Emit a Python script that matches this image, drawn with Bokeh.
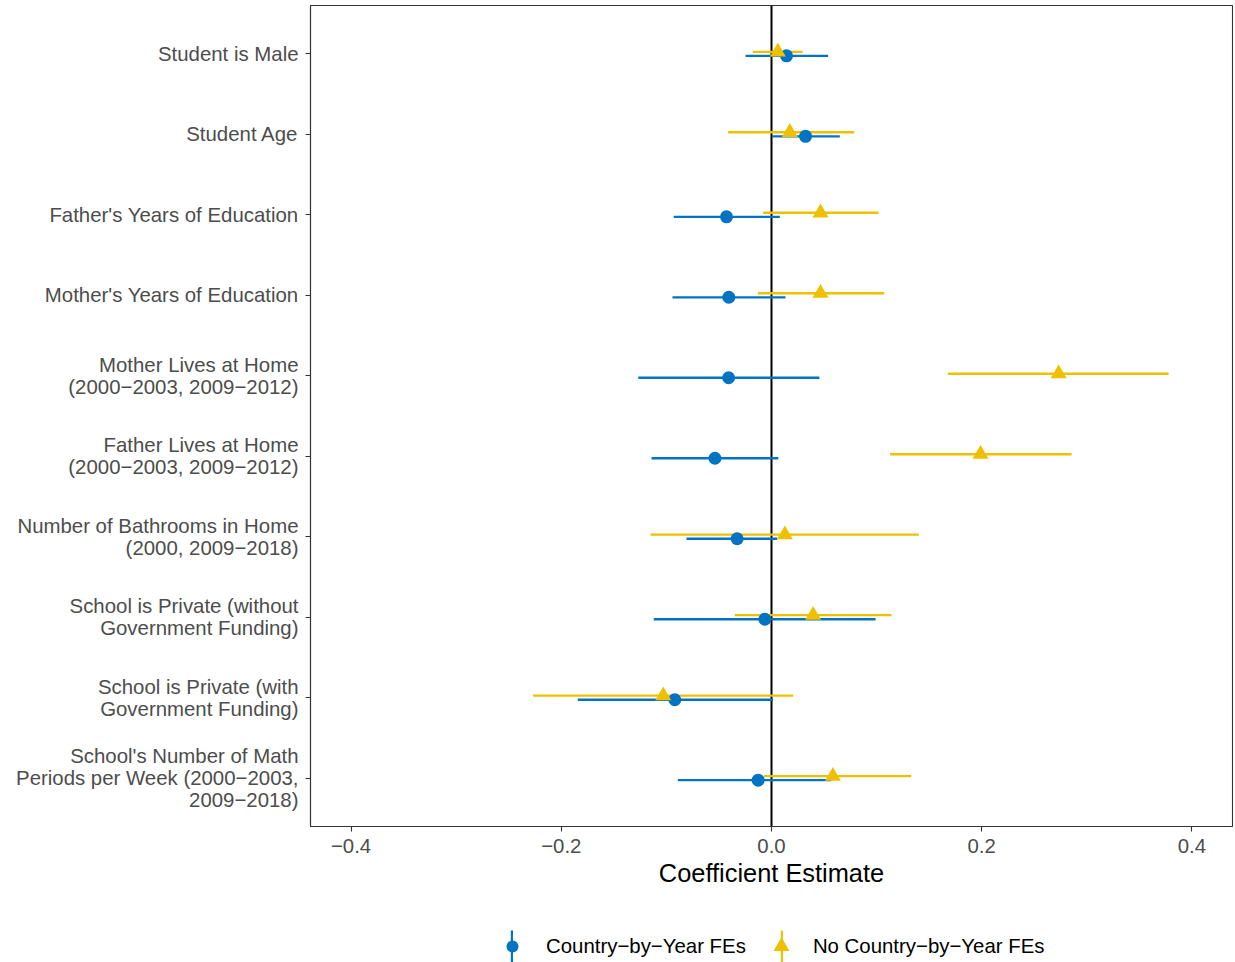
from bokeh.plotting import figure
from bokeh.layouts import column
from bokeh.models import (FactorRange, Range1d, Span, FixedTicker, Legend, LegendItem,
                          ColumnDataSource)
from bokeh.transform import dodge
from bokeh.embed import file_html
from bokeh.resources import INLINE

# ---------------- data ----------------
labels = [
    "Student is Male",
    "Student Age",
    "Father's Years of Education",
    "Mother's Years of Education",
    "Mother Lives at Home\n(2000\u22122003, 2009\u22122012)",
    "Father Lives at Home\n(2000\u22122003, 2009\u22122012)",
    "Number of Bathrooms in Home\n(2000, 2009\u22122018)",
    "School is Private (without\nGovernment Funding)",
    "School is Private (with\nGovernment Funding)",
    "School's Number of Math\nPeriods per Week (2000\u22122003,\n2009\u22122018)",
]

# Country-by-Year FEs (blue)
fe_est = [0.0143, 0.0324, -0.0428, -0.0406, -0.0408, -0.0538, -0.0327, -0.0063, -0.0920, -0.0127]
fe_lo = [-0.0247, 0.0005, -0.0930, -0.0942, -0.1267, -0.1141, -0.0809, -0.1120, -0.1843, -0.0891]
fe_hi = [0.0539, 0.0650, 0.0079, 0.0133, 0.0456, 0.0065, 0.0054, 0.0990, 0.0013, 0.0570]

# No Country-by-Year FEs (yellow)
nofe_est = [0.0060, 0.0174, 0.0466, 0.0466, 0.2732, 0.1989, 0.0127, 0.0396, -0.1030, 0.0584]
nofe_lo = [-0.0178, -0.0412, -0.0079, -0.0130, 0.1678, 0.1128, -0.1151, -0.0349, -0.2268, -0.0073]
nofe_hi = [0.0295, 0.0787, 0.1018, 0.1072, 0.3778, 0.2855, 0.1402, 0.1142, 0.0206, 0.1329]

series_names = ["Country\u2212by\u2212Year FEs", "No Country\u2212by\u2212Year FEs"]
x_ticks = [-0.4, -0.2, 0.0, 0.2, 0.4]
x_tick_labels = ["\u22120.4", "\u22120.2", "0.0", "0.2", "0.4"]
x_title = "Coefficient Estimate"

# ---------------- style ----------------
BLUE = "#0073C2"
YELLOW = "#EFC000"
FONT = "Liberation Sans"
TICK_COL = "#4D4D4D"
FRAME_COL = "#333333"

p = figure(
    width=1235, height=900,
    y_range=FactorRange(factors=list(reversed(labels)), range_padding=0.1,
                        range_padding_units="absolute"),
    x_range=Range1d(-0.4386, 0.4386),
    output_backend="svg", toolbar_location=None,
    min_border_left=310, min_border_right=3, min_border_top=5, min_border_bottom=74,
)
p.grid.visible = False
p.outline_line_color = FRAME_COL
p.outline_line_width = 1.1
p.background_fill_color = "white"
p.border_fill_color = "white"

src_fe = ColumnDataSource(dict(label=labels, est=fe_est, lo=fe_lo, hi=fe_hi))
src_no = ColumnDataSource(dict(label=labels, est=nofe_est, lo=nofe_lo, hi=nofe_hi))

zero = Span(location=0, dimension="height", line_color="black", line_width=2, level="underlay")
p.add_layout(zero)

off = 0.025
y_fe = dodge("label", -off, range=p.y_range)
y_no = dodge("label", off, range=p.y_range)

p.segment(x0="lo", x1="hi", y0=y_no, y1=y_no, source=src_no, line_color=YELLOW, line_width=2.3)
p.segment(x0="lo", x1="hi", y0=y_fe, y1=y_fe, source=src_fe, line_color=BLUE, line_width=2.3)
p.scatter(x="est", y=y_fe, source=src_fe, marker="circle", size=13,
          fill_color=BLUE, line_color=BLUE, line_width=0)
p.scatter(x="est", y=y_no, source=src_no, marker="triangle", size=16,
          fill_color=YELLOW, line_color=YELLOW, line_width=0)

# axes
xa = p.xaxis[0]
xa.ticker = FixedTicker(ticks=x_ticks)
xa.major_label_overrides = {t: l for t, l in zip(x_ticks, x_tick_labels)}
xa.axis_label = x_title
xa.axis_label_text_font = FONT
xa.axis_label_text_font_size = "25.4px"
xa.axis_label_text_font_style = "normal"
xa.axis_label_text_color = "black"
xa.axis_label_standoff = 3
xa.major_label_text_font = FONT
xa.major_label_text_font_size = "20.4px"
xa.major_label_text_color = TICK_COL
xa.major_label_standoff = 7
xa.major_tick_out = 5
xa.major_tick_in = 0
xa.minor_tick_out = 0
xa.minor_tick_in = 0
xa.major_tick_line_color = FRAME_COL
xa.major_tick_line_width = 1.1
xa.axis_line_color = FRAME_COL
xa.axis_line_width = 1.1

ya = p.yaxis[0]
ya.major_label_text_font = FONT
ya.major_label_text_font_size = "20.4px"
ya.major_label_text_color = TICK_COL
ya.major_label_text_line_height = 1.0
ya.major_label_standoff = 7
ya.major_tick_out = 5
ya.major_tick_in = 0
ya.major_tick_line_color = FRAME_COL
ya.major_tick_line_width = 1.1
ya.axis_line_color = FRAME_COL
ya.axis_line_width = 1.1

# ---------------- legend strip ----------------
nan = float("nan")
lg = figure(width=1235, height=62, x_range=Range1d(0, 1), y_range=Range1d(0, 1),
            output_backend="svg", toolbar_location=None,
            min_border=0, min_border_left=0, min_border_right=0,
            min_border_top=0, min_border_bottom=0)
lg.axis.visible = False
lg.grid.visible = False
lg.outline_line_color = None

# legend-only proxies (NaN data: nothing drawn in the strip itself)
b_fe = lg.vbar(x=[nan], top=[nan], width=1, fill_color=BLUE, line_color=None)
b_no = lg.vbar(x=[nan], top=[nan], width=1, fill_color=YELLOW, line_color=None)
k_fe = lg.scatter(x=[nan], y=[nan], marker="circle", fill_color=BLUE, line_color=BLUE, line_width=0)
k_no_hidden = lg.scatter(x=[nan], y=[nan], marker="triangle", fill_alpha=0, line_alpha=0)
k_no = lg.scatter(x=[nan], y=[nan], marker="triangle", fill_color=YELLOW, line_color=YELLOW, line_width=0)

def key_only(renderer, x_left, w, h):
    return Legend(
        items=[LegendItem(label="", renderers=[renderer])],
        location=(x_left, -4), glyph_width=w, glyph_height=h,
        label_standoff=0, padding=0, margin=0, spacing=0,
        label_text_font_size="1px",
        border_line_color=None, background_fill_alpha=0,
    )

lg.add_layout(key_only(b_fe, 200, 3, 40), "center")
lg.add_layout(key_only(b_no, 470, 3, 40), "center")

legend = Legend(
    items=[LegendItem(label=series_names[0], renderers=[k_fe]),
           LegendItem(label=series_names[1], renderers=[k_no_hidden])],
    orientation="horizontal",
    location=(187, 0),
    glyph_width=30, glyph_height=32,
    label_standoff=19, spacing=18,
    padding=0, margin=0,
    border_line_color=None, background_fill_alpha=0,
    label_text_font=FONT, label_text_font_size="20.4px", label_text_color="black",
)
lg.add_layout(legend, "center")
lg.add_layout(key_only(k_no, 451, 40, 40), "center")

open("out.html", "w").write(file_html(column(p, lg, spacing=0), INLINE))
